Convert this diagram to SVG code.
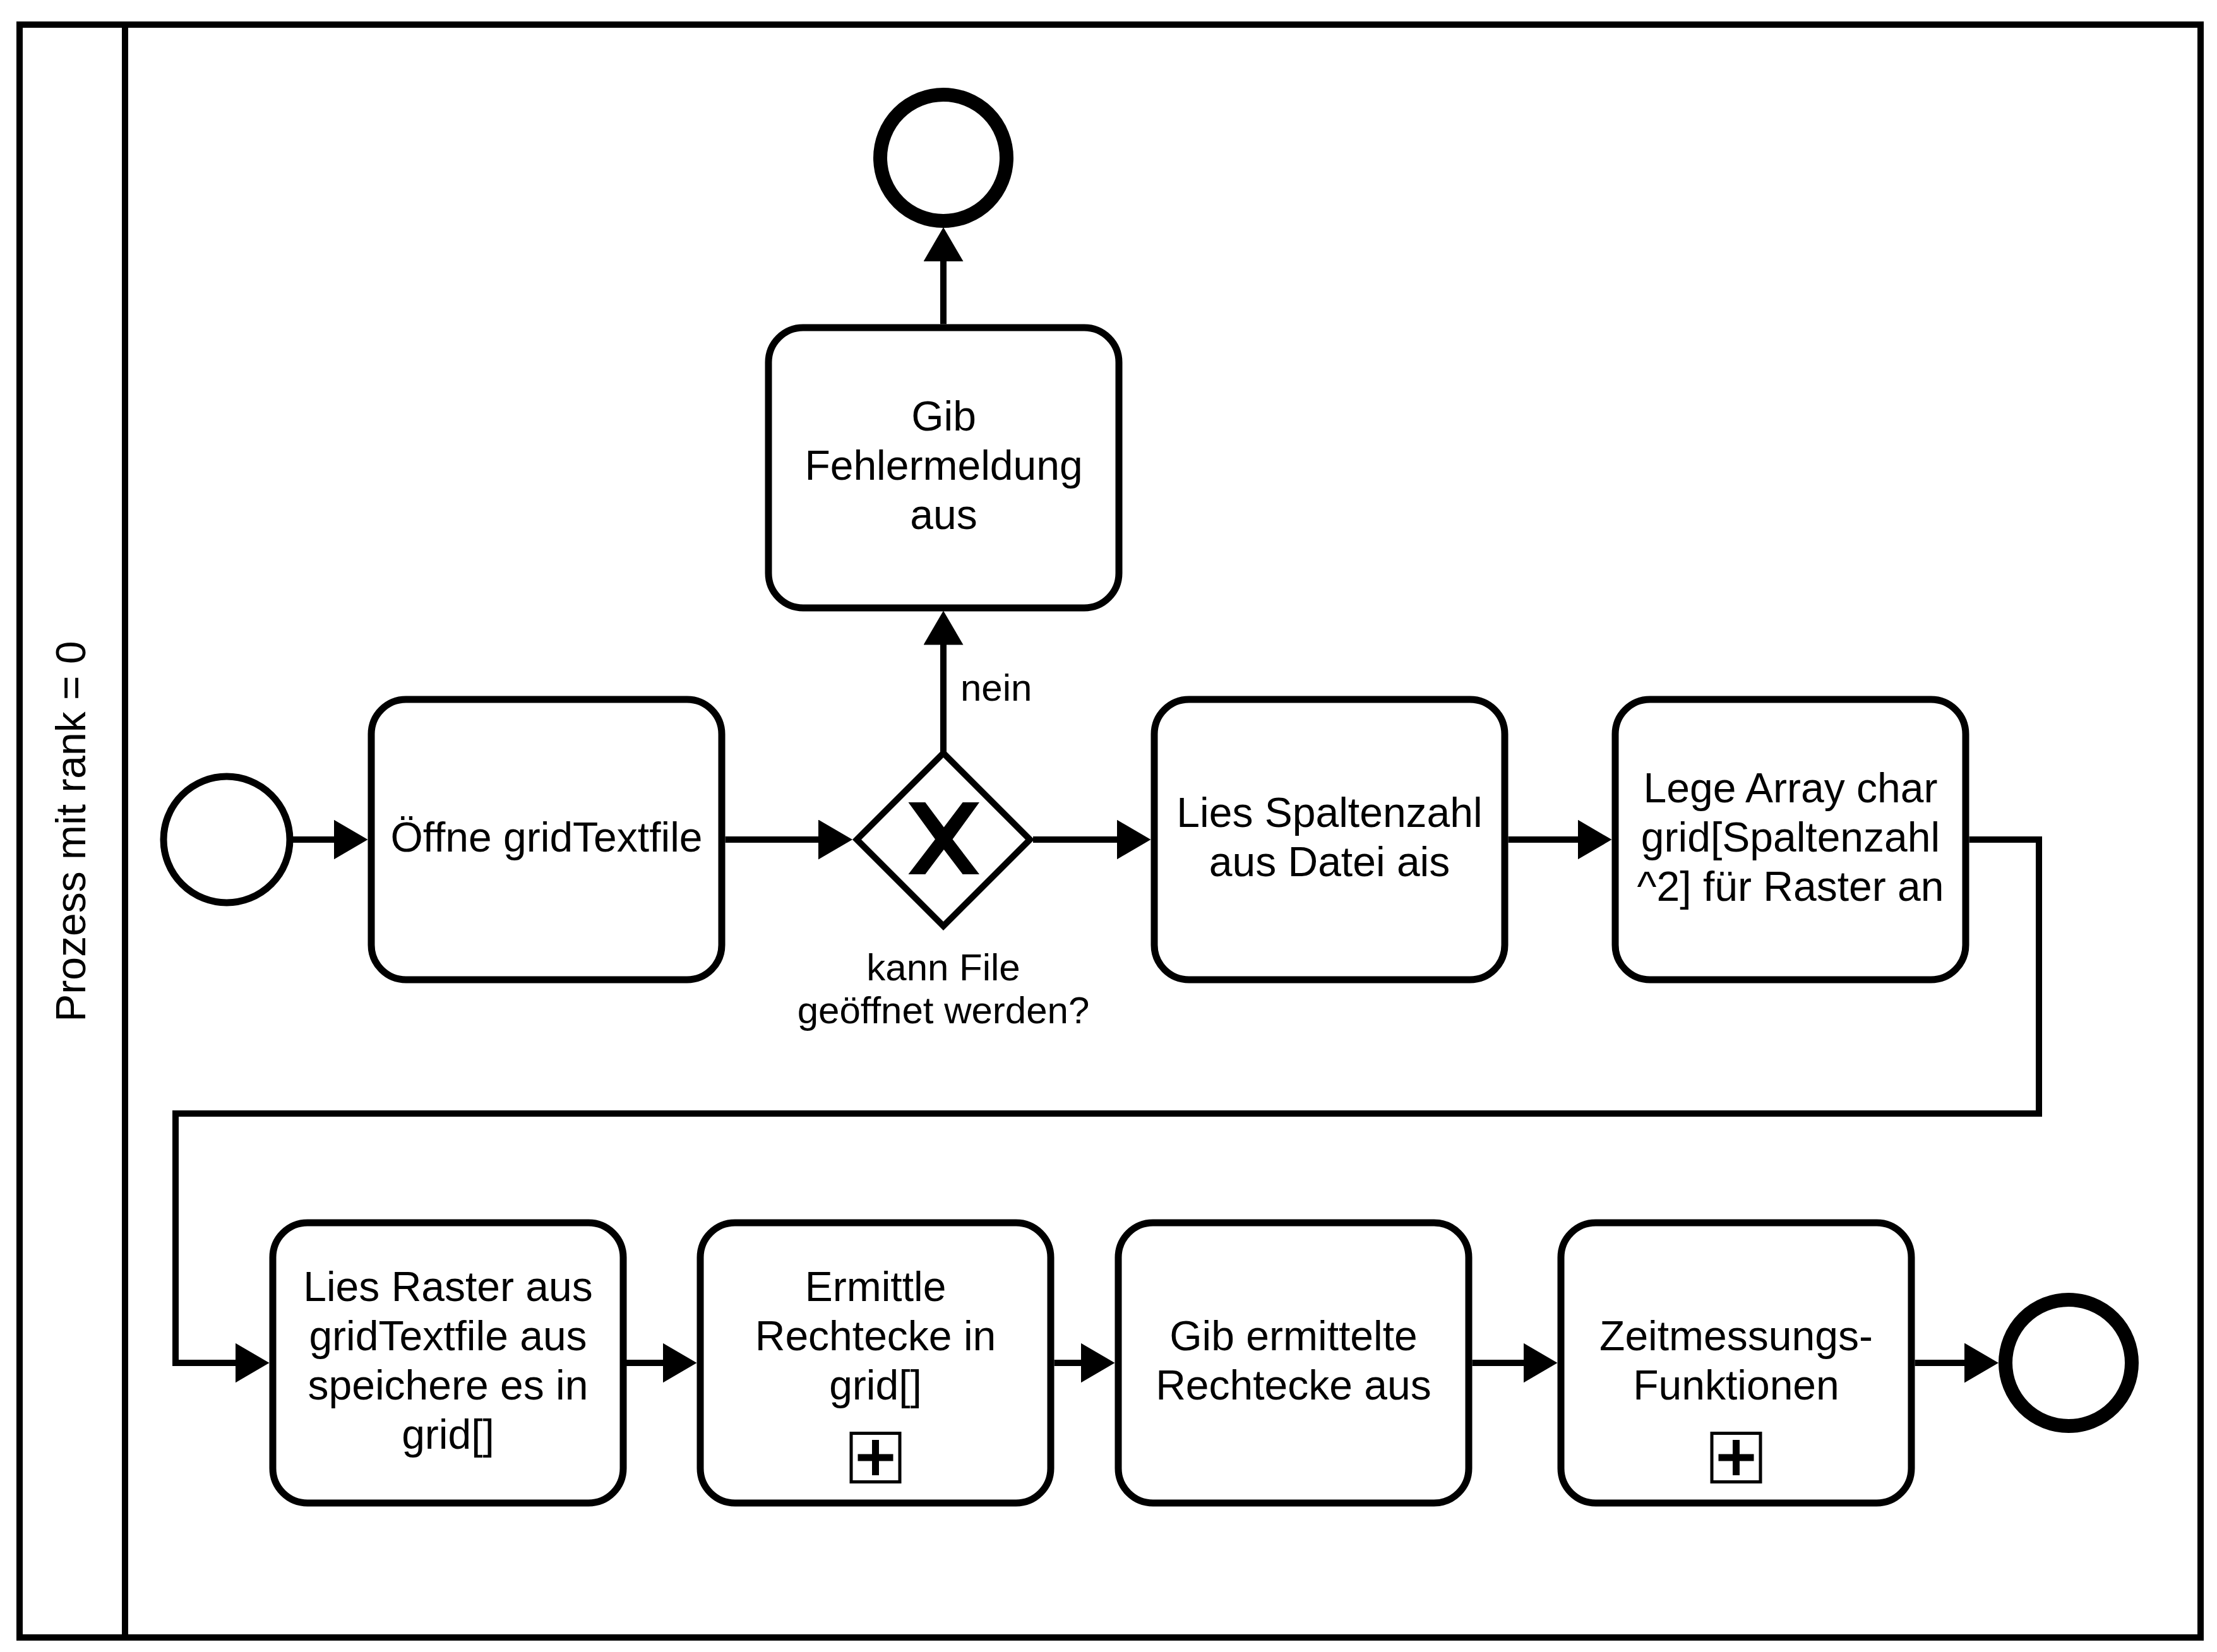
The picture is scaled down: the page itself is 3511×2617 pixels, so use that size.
<svg xmlns="http://www.w3.org/2000/svg" width="3511" height="2617" viewBox="0 0 3511 2617">
<style>
.task{fill:#fff;stroke:#000;stroke-width:11}
.flow{fill:none;stroke:#000;stroke-width:10}
.t{font-family:"Liberation Sans",Arial,Helvetica,sans-serif;font-size:66px;fill:#000;text-anchor:middle}
.lbl{font-size:60px}
.ev{fill:#fff;stroke:#000}
</style>
<defs>
<marker id="arr" viewBox="0 0 54 63" refX="39" refY="31.5" markerWidth="54" markerHeight="63" markerUnits="userSpaceOnUse" orient="auto"><path d="M0,0L54,31.5L0,63Z" fill="#000"/></marker>
</defs>
<rect x="0" y="0" width="3511" height="2617" fill="#fff"/>
<g id="pool">
<rect x="31" y="39" width="3454" height="2555" fill="none" stroke="#000" stroke-width="10"/>
<line x1="198" y1="39" x2="198" y2="2594" stroke="#000" stroke-width="10"/>
<text class="t" transform="translate(112,1317) rotate(-90)" x="0" y="23">Prozess mit rank = 0</text>
</g>
<g id="connectors">
<path class="flow" d="M464,1330H567.5" marker-end="url(#arr)"/>
<path class="flow" d="M1148.5,1330H1335" marker-end="url(#arr)"/>
<path class="flow" d="M1636,1330H1807.5" marker-end="url(#arr)"/>
<path class="flow" d="M2388.5,1330H2537.5" marker-end="url(#arr)"/>
<path class="flow" d="M3118.5,1330H3229V1764H278V2159H411.5" marker-end="url(#arr)"/>
<path class="flow" d="M987.5,2159H1088.5" marker-end="url(#arr)"/>
<path class="flow" d="M1669.5,2159H1750.5" marker-end="url(#arr)"/>
<path class="flow" d="M2331.5,2159H2451.5" marker-end="url(#arr)"/>
<path class="flow" d="M3032.5,2159H3150" marker-end="url(#arr)"/>
<path class="flow" d="M1494,1193V982.5" marker-end="url(#arr)"/>
<path class="flow" d="M1494,513.5V375" marker-end="url(#arr)"/>
<text class="t lbl" x="1521" y="1110" style="text-anchor:start">nein</text>
</g>
<g id="start">
<circle class="ev" cx="359" cy="1330" r="100" stroke-width="11"/>
</g>
<g id="task_oeffne">
<rect class="task" x="588" y="1108" width="555" height="444" rx="55"/>
<text class="t" x="865.5" y="1349">Öffne gridTextfile</text>
</g>
<g id="gateway">
<polygon points="1494,1193 1631,1330 1494,1467 1357,1330" fill="#fff" stroke="#000" stroke-width="10"/>
<polygon points="1438.5,1271 1465.3,1271 1494.8,1310.5 1524.6,1271 1551,1271 1508.6,1329.6 1551,1385 1524.6,1385 1494.8,1345.7 1465.3,1385 1438.5,1385 1481,1329.6" fill="#000"/>
<text class="t lbl" x="1494" y="1553">kann File</text>
<text class="t lbl" x="1494" y="1621">geöffnet werden?</text>
</g>
<g id="task_fehler">
<rect class="task" x="1217" y="519" width="555" height="444" rx="55"/>
<text class="t" x="1494.5" y="682">Gib</text>
<text class="t" x="1494.5" y="760">Fehlermeldung</text>
<text class="t" x="1494.5" y="838">aus</text>
</g>
<g id="end_error">
<circle class="ev" cx="1494" cy="250" r="100" stroke-width="22"/>
</g>
<g id="task_spalten">
<rect class="task" x="1828" y="1108" width="555" height="444" rx="55"/>
<text class="t" x="2105.5" y="1310">Lies Spaltenzahl</text>
<text class="t" x="2105.5" y="1388">aus Datei ais</text>
</g>
<g id="task_array">
<rect class="task" x="2558" y="1108" width="555" height="444" rx="55"/>
<text class="t" x="2835.5" y="1271">Lege Array char</text>
<text class="t" x="2835.5" y="1349">grid[Spaltenzahl</text>
<text class="t" x="2835.5" y="1427">^2] für Raster an</text>
</g>
<g id="task_raster">
<rect class="task" x="432" y="1937" width="555" height="444" rx="55"/>
<text class="t" x="709.5" y="2061">Lies Raster aus</text>
<text class="t" x="709.5" y="2139">gridTextfile aus</text>
<text class="t" x="709.5" y="2217">speichere es in</text>
<text class="t" x="709.5" y="2295">grid[]</text>
</g>
<g id="sub_ermittle">
<rect class="task" x="1109" y="1937" width="555" height="444" rx="55"/>
<text class="t" x="1386.5" y="2061">Ermittle</text>
<text class="t" x="1386.5" y="2139">Rechtecke in</text>
<text class="t" x="1386.5" y="2217">grid[]</text>
<rect x="1348" y="2270.5" width="77" height="77" fill="#fff" stroke="#000" stroke-width="5"/>
<rect x="1381" y="2281" width="11" height="56" fill="#000"/>
<rect x="1358.5" y="2303.5" width="56" height="11" fill="#000"/>
</g>
<g id="task_ausgabe">
<rect class="task" x="1771" y="1937" width="555" height="444" rx="55"/>
<text class="t" x="2048.5" y="2139">Gib ermittelte</text>
<text class="t" x="2048.5" y="2217">Rechtecke aus</text>
</g>
<g id="sub_zeit">
<rect class="task" x="2472" y="1937" width="555" height="444" rx="55"/>
<text class="t" x="2749.5" y="2139">Zeitmessungs-</text>
<text class="t" x="2749.5" y="2217">Funktionen</text>
<rect x="2711" y="2270.5" width="77" height="77" fill="#fff" stroke="#000" stroke-width="5"/>
<rect x="2744" y="2281" width="11" height="56" fill="#000"/>
<rect x="2721.5" y="2303.5" width="56" height="11" fill="#000"/>
</g>
<g id="end">
<circle class="ev" cx="3276" cy="2159" r="100" stroke-width="22"/>
</g>
</svg>
